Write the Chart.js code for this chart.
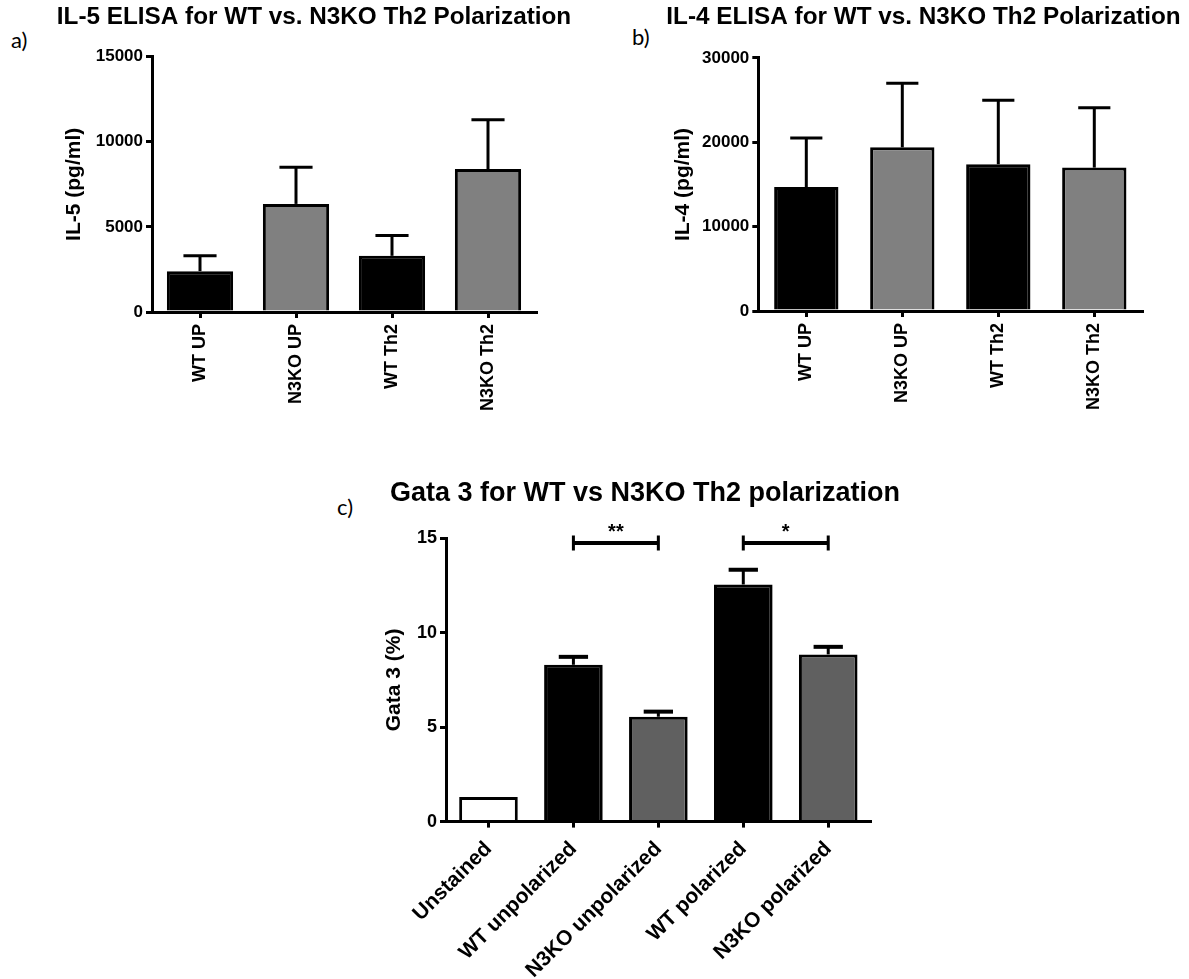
<!DOCTYPE html>
<html>
<head>
<meta charset="utf-8">
<title>Th2 polarization: IL-5, IL-4 and Gata 3</title>
<script src="https://cdn.jsdelivr.net/npm/chart.js@4.4.1/dist/chart.umd.min.js"></script>
<style>
  html, body { margin: 0; padding: 0; background: #fff; }
  body { width: 1189px; height: 979px; position: relative; overflow: hidden; }
  .panel { position: absolute; }
  .tag { position: absolute; font-family: Lato, "Open Sans", sans-serif; font-size: 22px; line-height: 1; color: #000; }
</style>
</head>
<body>
<div class="tag" style="left:11px; top:29px;">a)</div>
<div class="tag" style="left:632px; top:26px;">b)</div>
<div class="tag" style="left:337px; top:496px;">c)</div>

<div class="panel" style="left:40px; top:0px; width:548px; height:450px;"><canvas id="il5"></canvas></div>
<div class="panel" style="left:660px; top:0px; width:527px; height:450px;"><canvas id="il4"></canvas></div>
<div class="panel" style="left:340px; top:440px; width:610px; height:539px;"><canvas id="gata"></canvas></div>

<script>
// ---- IL-5 ELISA ----
const il5Categories = ['WT UP', 'N3KO UP', 'WT Th2', 'N3KO Th2'];
const il5Mean = [2400, 6350, 3300, 8400];
const il5Sem = [900, 2150, 1200, 2900];
const il5Ticks = [0, 5000, 10000, 15000];

// ---- IL-4 ELISA ----
const il4Categories = ['WT UP', 'N3KO UP', 'WT Th2', 'N3KO Th2'];
const il4Mean = [14700, 19400, 17400, 17000];
const il4Sem = [5800, 7600, 7600, 7100];
const il4Ticks = [0, 10000, 20000, 30000];

// ---- Gata 3 ----
const gataCategories = ['Unstained', 'WT unpolarized', 'N3KO unpolarized', 'WT polarized', 'N3KO polarized'];
const gataMean = [1.3, 8.3, 5.55, 12.55, 8.85];
const gataSem = [null, 0.42, 0.27, 0.78, 0.4];
const gataTicks = [0, 5, 10, 15];

// significance brackets between groups (category indices)
const sigFrom = [1, 3];
const sigTo = [2, 4];
const sigLevel = [14.75, 14.75];
const sigLabel = ['**', '*'];

const FONT = '"Liberation Sans", Arial, Helvetica, sans-serif';
Chart.defaults.font.family = FONT;
Chart.defaults.color = '#000';

// upper error bars (mean + SEM) drawn through the value scale
const errorBars = {
  id: 'errorBars',
  afterDatasetsDraw(chart) {
    const ds = chart.data.datasets[0];
    const meta = chart.getDatasetMeta(0);
    const yScale = chart.scales.y;
    const ctx = chart.ctx;
    ctx.save();
    ctx.strokeStyle = '#000';
    ctx.lineCap = 'butt';
    ds.errorPlus.forEach((e, i) => {
      if (e == null) return;
      const bar = meta.data[i];
      const yTop = yScale.getPixelForValue(ds.data[i] + e);
      const half = bar.width * 0.25;
      ctx.lineWidth = 3;
      ctx.beginPath();
      ctx.moveTo(bar.x, bar.y);
      ctx.lineTo(bar.x, yTop);
      ctx.stroke();
      ctx.lineWidth = ds.capWidth;
      ctx.beginPath();
      ctx.moveTo(bar.x - half, yTop);
      ctx.lineTo(bar.x + half, yTop);
      ctx.stroke();
    });
    ctx.restore();
  }
};

// significance brackets with star labels
const sigBrackets = {
  id: 'sigBrackets',
  afterDraw(chart) {
    const ds = chart.data.datasets[0];
    if (!ds.sig) return;
    const xs = chart.scales.x, ys = chart.scales.y;
    const ctx = chart.ctx;
    ctx.save();
    ctx.strokeStyle = '#000';
    ctx.fillStyle = '#000';
    ds.sig.from.forEach((f, k) => {
      const x1 = xs.getPixelForValue(f);
      const x2 = xs.getPixelForValue(ds.sig.to[k]);
      const y = ys.getPixelForValue(ds.sig.level[k]);
      ctx.lineWidth = 4;
      ctx.beginPath();
      ctx.moveTo(x1, y);
      ctx.lineTo(x2, y);
      ctx.stroke();
      ctx.lineWidth = 3;
      ctx.beginPath();
      ctx.moveTo(x1, y - 7.5); ctx.lineTo(x1, y + 7.5);
      ctx.moveTo(x2, y - 7.5); ctx.lineTo(x2, y + 7.5);
      ctx.stroke();
      ctx.font = 'bold 20px ' + FONT;
      ctx.textAlign = 'center';
      ctx.textBaseline = 'middle';
      ctx.fillText(ds.sig.label[k], (x1 + x2) / 2, y - 10);
    });
    ctx.restore();
  }
};

function axisLine() {
  return {
    grid: { display: true, drawOnChartArea: false, drawTicks: true, tickLength: 6, color: '#000', lineWidth: 3 },
    border: { display: true, color: '#000', width: 3 }
  };
}

function buildChart(id, p) {
  const xAxis = axisLine();
  xAxis.grid.offset = false;
  const yAxis = axisLine();
  return new Chart(document.getElementById(id), {
    type: 'bar',
    data: {
      labels: p.categories,
      datasets: [{
        xAxisID: 'x',
        yAxisID: 'y',
        data: p.mean,
        errorPlus: p.sem,
        capWidth: p.capWidth,
        sig: p.sig || null,
        backgroundColor: p.colors,
        borderColor: '#000',
        borderWidth: 3,
        borderSkipped: 'start',
        barPercentage: p.barPct,
        categoryPercentage: 1
      }]
    },
    options: {
      responsive: true,
      maintainAspectRatio: false,
      animation: false,
      events: [],
      layout: { padding: 0 },
      plugins: {
        legend: { display: false },
        tooltip: { enabled: false },
        title: {
          display: true,
          text: p.title,
          align: 'center',
          color: '#000',
          font: { size: p.titleSize, weight: 'bold', lineHeight: 1.2 },
          padding: { top: p.titlePadTop, bottom: p.titlePadBottom }
        }
      },
      scales: {
        x: Object.assign(xAxis, {
          type: 'category',
          offset: true,
          ticks: {
            color: '#000',
            autoSkip: false,
            minRotation: p.rotation,
            maxRotation: p.rotation,
            padding: p.xPad,
            font: { size: p.xFont, weight: 'bold' }
          },
          afterFit(s) { s.height = p.xHeight; }
        }),
        y: Object.assign(yAxis, {
          position: 'left',
          min: p.ticks[0],
          max: p.ticks[p.ticks.length - 1],
          ticks: {
            color: '#000',
            padding: 3,
            font: { size: p.yFont, weight: 'bold' },
            callback: v => String(v)
          },
          title: {
            display: true,
            text: p.yTitle,
            color: '#000',
            font: { size: p.yTitleSize, weight: 'bold', lineHeight: 1.2 },
            padding: { top: p.yTitlePad, bottom: 0 }
          },
          afterBuildTicks(s) { s.ticks = p.ticks.map(v => ({ value: v })); },
          afterFit(s) { s.width = p.yWidth; }
        }),
        // empty margin on the right so the title can run past the plot area
        margin: {
          type: 'linear',
          position: 'right',
          display: true,
          grid: { display: false },
          border: { display: false },
          ticks: { display: false },
          afterFit(s) { s.width = p.rightSpace; }
        }
      }
    },
    plugins: [errorBars, sigBrackets]
  });
}

buildChart('il5', {
  categories: il5Categories, mean: il5Mean, sem: il5Sem, ticks: il5Ticks,
  colors: ['#000000', '#808080', '#000000', '#808080'],
  title: 'IL-5 ELISA for WT vs. N3KO Th2 Polarization', titleSize: 24.3, titlePadTop: 3, titlePadBottom: 24.5,
  yTitle: 'IL-5 (pg/ml)', yTitleSize: 21, yTitlePad: 21.4, yFont: 17, yWidth: 112,
  xFont: 18, xPad: 6, xHeight: 138, rotation: 90, barPct: 0.69, capWidth: 3, rightSpace: 52
});

buildChart('il4', {
  categories: il4Categories, mean: il4Mean, sem: il4Sem, ticks: il4Ticks,
  colors: ['#000000', '#808080', '#000000', '#808080'],
  title: 'IL-4 ELISA for WT vs. N3KO Th2 Polarization', titleSize: 24.3, titlePadTop: 3, titlePadBottom: 25.8,
  yTitle: 'IL-4 (pg/ml)', yTitleSize: 21, yTitlePad: 10.4, yFont: 17, yWidth: 98.3,
  xFont: 18, xPad: 6, xHeight: 139, rotation: 90, barPct: 0.67, capWidth: 3, rightSpace: 44.7
});

buildChart('gata', {
  categories: gataCategories, mean: gataMean, sem: gataSem, ticks: gataTicks,
  colors: ['#ffffff', '#000000', '#606060', '#000000', '#606060'],
  sig: { from: sigFrom, to: sigTo, level: sigLevel, label: sigLabel },
  title: 'Gata 3 for WT vs N3KO Th2 polarization', titleSize: 27, titlePadTop: 37.8, titlePadBottom: 28,
  yTitle: 'Gata 3 (%)', yTitleSize: 21, yTitlePad: 41.4, yFont: 18, yWidth: 106,
  xFont: 21, xPad: 9, xHeight: 157.4, rotation: 45, barPct: 0.69, capWidth: 4, rightSpace: 79.3
});
</script>
</body>
</html>
